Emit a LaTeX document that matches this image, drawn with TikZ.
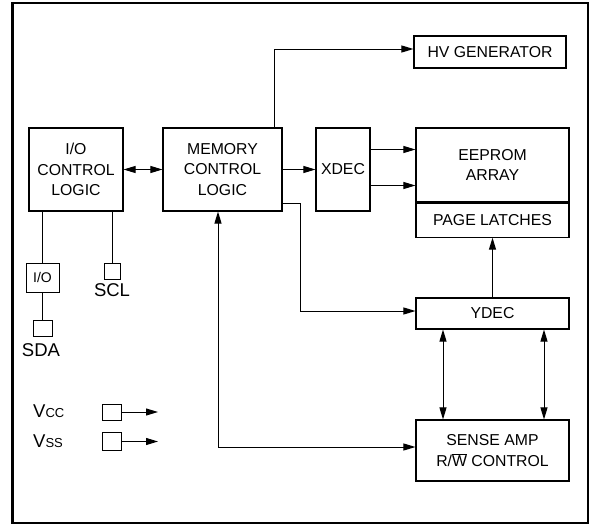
\documentclass[tikz,border=0pt]{standalone}
\usepackage{fontspec}
\setmainfont{Liberation Sans}
\usetikzlibrary{positioning}
\usetikzlibrary{calc}
\usetikzlibrary{arrows.meta}

\begin{document}
\begin{tikzpicture}[x=1pt, y=-1pt,
  blk/.style={draw, line width=1.1pt, inner sep=0pt, align=center,
    font=\fontsize{15.8}{20.7}\selectfont},
  pad/.style={draw, line width=1pt, inner sep=0pt,
    minimum width=19pt, minimum height=16pt},
  pin/.style={font=\fontsize{18.5}{20}\selectfont, inner sep=0pt},
  wire/.style={line width=1pt},
  tip/.style={-{Triangle[length=12pt,width=7pt]}},
  tips/.style={{Triangle[length=12pt,width=7pt]}-{Triangle[length=12pt,width=7pt]}}]

\useasboundingbox (0,0) rectangle (590,525);

% Frame
\draw[line width=1.4pt] (12,3) rectangle (588,523);
\draw[line width=3pt] (12,3) -- (12,523);

% Blocks
\node[blk, minimum width=94pt, minimum height=83pt] (iolog) at (76,169.5) {I/O\\CONTROL\\LOGIC};
\node[blk, minimum width=119pt, minimum height=83pt] (memlog) at (222.5,169.5) {MEMORY\\CONTROL\\LOGIC};
\node[blk, minimum width=152pt, minimum height=32pt] (hvgen) at (490,52) {HV GENERATOR};
\node[blk, minimum width=54pt, minimum height=83pt] (xdec) at (343,169.5) {XDEC};
\node[blk, minimum width=153pt, minimum height=74pt] (eeprom) at (492.5,165) {EEPROM\\ARRAY};
\node[blk, minimum width=153pt, minimum height=34pt, below=0pt of eeprom] (latch) {PAGE LATCHES};
\node[blk, minimum width=153pt, minimum height=31pt] (ydec) at (492.5,313.5) {YDEC};
\node[blk, minimum width=153pt, minimum height=61pt] (sense) at (492.5,450.5) {SENSE AMP\\R/$\overline{\mbox{W}}$ CONTROL};

% Pins
\node[draw, line width=1pt, minimum width=33pt, minimum height=29pt, inner sep=0pt,
  font=\fontsize{14}{16}\selectfont] (iobuf) at (42.5,277.5) {I/O};
\node[pad] (sdapad) at (42.5,328) {};
\node[pad, minimum width=16pt] (sclpad) at (112,271) {};
\node[pad] (vccpad) at (111.5,412) {};
\node[pad, minimum height=18pt] (vsspad) at (111.5,441.5) {};

\node[pin, anchor=base] (sda) at (41,356) {SDA};
\node[pin, anchor=base] (scl) at (112,296) {SCL};
\node[pin, anchor=base west] (vcc) at (33,417) {V{\fontsize{13}{14}\selectfont CC}};
\node[pin, anchor=base west] (vss) at (33,447) {V{\fontsize{13}{14}\selectfont SS}};

\coordinate (vccout) at (158,412);
\coordinate (vssout) at (158,441.5);

% Connector points
\coordinate (hvup) at ($(memlog.north east)+(-8,0)$);
\coordinate (hvin) at ($(hvgen.west)+(0,-3)$);
\coordinate (xa) at ($(xdec.east)+(0,-20)$);
\coordinate (xb) at ($(xdec.east)+(0,16)$);
\coordinate (yout) at ($(memlog.east)+(0,33.5)$);
\coordinate (yin) at ($(ydec.west)+(0,-2.5)$);
\coordinate (ya) at ($(ydec.south)+(-49.5,0)$);
\coordinate (yb) at ($(ydec.south)+(51.5,0)$);
\coordinate (sin) at ($(sense.west)+(0,-3.5)$);
\coordinate (mbot) at ($(memlog.south)+(-4.5,0)$);

% Connectors
\draw[wire, tips] (iolog.east) -- (memlog.west);
\draw[wire, tip] (hvup) |- (hvin);
\draw[wire, tip] (memlog.east) -- (xdec.west);
\draw[wire, tip] (xa) -- (xa -| eeprom.west);
\draw[wire, tip] (xb) -- (xb -| eeprom.west);
\draw[wire, tip] (yout) -- ++(18,0) |- (yin);
\draw[wire, tip] (ydec.north) -- (latch.south);
\draw[wire, tips] (ya) -- (ya |- sense.north);
\draw[wire, tips] (yb) -- (yb |- sense.north);
\draw[wire, tips] (sin) -| (mbot);

\draw[wire] (iolog.south -| iobuf.north) -- (iobuf.north);
\draw[wire] (iobuf.south) -- (sdapad.north);
\draw[wire] (iolog.south -| sclpad.north) -- (sclpad.north);
\draw[wire, tip] (vccpad.east) -- (vccout);
\draw[wire, tip] (vsspad.east) -- (vssout);

\end{tikzpicture}
\end{document}
